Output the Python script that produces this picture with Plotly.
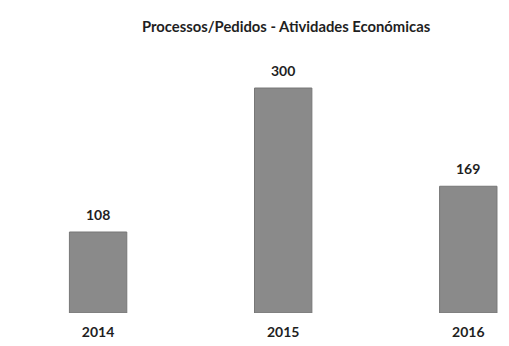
import plotly.graph_objects as go

# Data
years = ["2014", "2015", "2016"]
requests = [108, 300, 169]

bar_color = "#8a8a8a"
text_color = "#1f1f1f"
font_family = "Lato, 'Open Sans', sans-serif"

fig = go.Figure(
    go.Bar(
        x=years,
        y=requests,
        width=0.31,
        marker=dict(color=bar_color, line=dict(color="#777777", width=1)),
        hoverinfo="skip",
    )
)

# Value labels above each bar (category index on the x axis)
for i, v in enumerate(requests):
    fig.add_annotation(
        x=i, y=v, xref="x", yref="y", text=f"<b>{v}</b>", showarrow=False,
        yanchor="bottom", yshift=7,
        font=dict(family=font_family, size=14, color=text_color),
    )

fig.update_layout(
    width=509,
    height=346,
    margin=dict(l=0, r=0, t=50, b=33),
    paper_bgcolor="white",
    plot_bgcolor="white",
    showlegend=False,
    title=dict(
        text="<b>Processos/Pedidos - Atividades Económicas</b>",
        x=0.562, xanchor="center",
        y=0.922, yanchor="middle",
        font=dict(family=font_family, size=14.8, color=text_color),
    ),
    xaxis=dict(
        type="category",
        range=[-0.53, 2.22],
        showgrid=False, zeroline=False, showline=False,
        ticks="", ticklabelstandoff=9,
        tickfont=dict(family=font_family, size=14, color=text_color, weight="bold"),
    ),
    yaxis=dict(
        range=[0, 350.7],
        showticklabels=False, ticks="",
        showgrid=False, zeroline=False, showline=False,
    ),
)

fig.write_html("out.html")
